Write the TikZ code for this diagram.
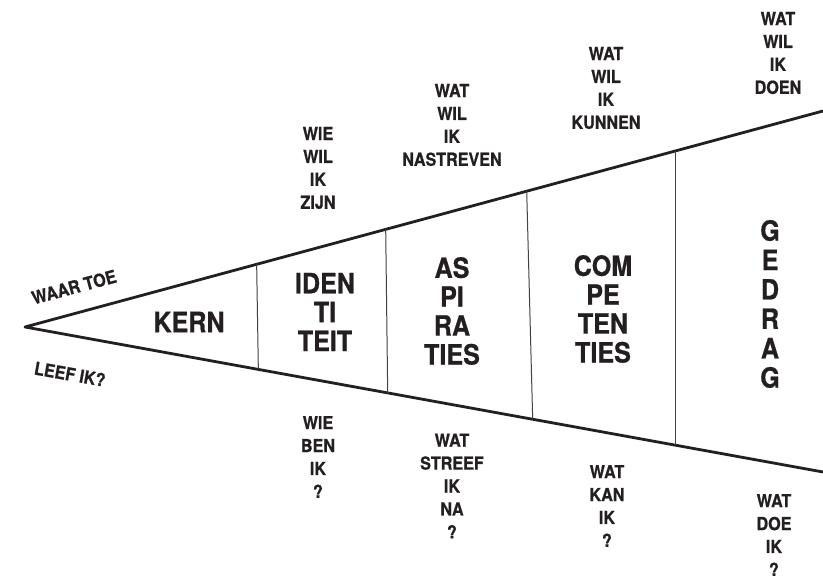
\documentclass[tikz,border=0pt]{standalone}
\usepackage{fontspec}
\setmainfont{TeX Gyre Heros}[FakeStretch=0.9, BoldFeatures={FakeBold=0.8}]
\usetikzlibrary{calc}
\definecolor{inkt}{HTML}{231F20}
\tikzset{
  rand/.style={line width=2.8bp, draw=inkt, line join=round},
  deel/.style={line width=1bp, draw=inkt!85},
  blok/.style={font=\bfseries\fontsize{28}{29}\selectfont, text=inkt, align=center, inner sep=0pt},
  vraag/.style={font=\bfseries\fontsize{18}{23}\selectfont, text=inkt, align=center, inner sep=0pt}
}

\begin{document}
\begin{tikzpicture}[x=1bp, y=-1bp]
 \useasboundingbox (0,0) rectangle (823,579);
 \coordinate (apex) at (25,327);
 \coordinate (boven) at (823,111);
 \coordinate (onder) at (823,472);
 \draw[rand] (boven) -- (apex) -- (onder);
 % scheidingslijnen
 \foreach \a/\b [count=\i] in {0.2903/0.2924, 0.452/0.4545, 0.6287/0.6362, 0.8154/0.8154}
  {
   \coordinate (t\i) at ($(apex)!\a!(boven)$);
   \coordinate (b\i) at ($(apex)!\b!(onder)$);
   \draw[deel] (t\i) -- (b\i);
  }

 \node[blok] (kern) at (189,322) {KERN};
 \node[blok] (identiteit) at (325,312) {IDEN\\TI\\TEIT};
 \node[blok] (aspiraties) at (452,311) {AS\\PI\\RA\\TIES};
 \node[blok] (competenties) at (603,309) {COM\\PE\\TEN\\TIES};
 \node[blok, font=\bfseries\fontsize{28}{29.5}\selectfont] (gedrag) at (770,304) {G\\E\\D\\R\\A\\G};

 \node[vraag] (wilzijn) at (318,168) {WIE\\WIL\\IK\\ZIJN};
 \node[vraag] (wilnastreven) at (452,125) {WAT\\WIL\\IK\\NASTREVEN};
 \node[vraag] (wilkunnen) at (606,88) {WAT\\WIL\\IK\\KUNNEN};
 \node[vraag] (wildoen) at (778,53) {WAT\\WIL\\IK\\DOEN};

 \node[vraag] (benik) at (318,457) {WIE\\BEN\\IK\\?};
 \node[vraag] (streefik) at (452,486) {WAT\\STREEF\\IK\\NA\\?};
 \node[vraag] (kanik) at (607,506) {WAT\\KAN\\IK\\?};
 \node[vraag] (doeik) at (774,535) {WAT\\DOE\\IK\\?};

 \node[vraag, rotate=15] (waartoe) at (74,287) {WAAR TOE};
 \node[vraag, rotate=-10] (leefik) at (70,374) {LEEF IK?};
\end{tikzpicture}
\end{document}
